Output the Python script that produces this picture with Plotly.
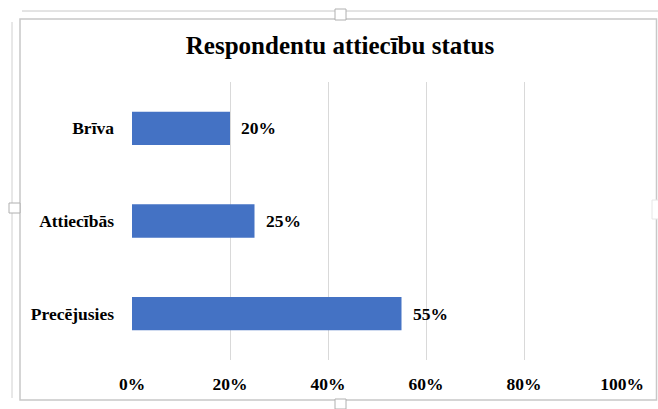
import plotly.graph_objects as go

categories = ["Precējusies", "Attiecībās", "Brīva"]
values = [0.55, 0.25, 0.20]
label_texts = ["55%", "25%", "20%"]
tick_vals = [0, 0.2, 0.4, 0.6, 0.8, 1.0]
tick_text = ["0%", "20%", "40%", "60%", "80%", "100%"]
title_text = "Respondentu attiecību status"

W, H = 658, 409
# plot area in screenshot pixels: x 132..622, y 82..360
L, T = 132, 82
R = W - 622
B = H - 360
pw, ph = W - L - R, H - T - B

def px_x(x):
    return (x - L) / pw

def px_y(y):
    return (T + ph - y) / ph

font_family = "Liberation Serif, Times New Roman, serif"
FS = 17.5

fig = go.Figure()
fig.add_trace(go.Bar(
    y=categories, x=values, orientation="h",
    marker=dict(color="#4472C4", line=dict(width=0)),
    hoverinfo="skip",
))

annotations = []
for c, v, t in zip(categories, values, label_texts):
    annotations.append(dict(
        x=v, y=c, xref="x", yref="y", text="<b>%s</b>" % t,
        showarrow=False, xanchor="left", yanchor="middle", xshift=9,
        font=dict(family=font_family, size=FS, color="#000000"),
    ))

shapes = [
    dict(type="rect", xref="paper", yref="paper",
         x0=px_x(20), x1=px_x(656.5), y0=px_y(400), y1=px_y(19),
         line=dict(color="#c8c8c8", width=1.5), fillcolor="rgba(0,0,0,0)", layer="below"),
    dict(type="line", xref="paper", yref="paper",
         x0=px_x(22), x1=px_x(700), y0=px_y(11), y1=px_y(11),
         line=dict(color="#c8c8c8", width=1)),
    dict(type="line", xref="paper", yref="paper",
         x0=px_x(12), x1=px_x(12), y0=px_y(22), y1=px_y(398),
         line=dict(color="#d0d0d0", width=1)),
    dict(type="rect", xref="paper", yref="paper",
         x0=px_x(335), x1=px_x(346), y0=px_y(20), y1=px_y(9),
         line=dict(color="#b0b0b0", width=1), fillcolor="#ffffff"),
    dict(type="rect", xref="paper", yref="paper",
         x0=px_x(9), x1=px_x(20), y0=px_y(213), y1=px_y(203),
         line=dict(color="#b0b0b0", width=1), fillcolor="#ffffff"),
    dict(type="rect", xref="paper", yref="paper",
         x0=px_x(335), x1=px_x(346), y0=px_y(409), y1=px_y(399),
         line=dict(color="#b0b0b0", width=1), fillcolor="#ffffff"),
    dict(type="rect", xref="paper", yref="paper",
         x0=px_x(652), x1=px_x(660), y0=px_y(219), y1=px_y(200),
         line=dict(color="#e6e6e6", width=1), fillcolor="#ffffff"),
]

fig.update_layout(
    width=W, height=H,
    margin=dict(l=L, r=R, t=T, b=B, pad=0),
    paper_bgcolor="#ffffff", plot_bgcolor="#ffffff",
    showlegend=False,
    bargap=0.64,
    title=dict(text="<b>%s</b>" % title_text, x=340 / W, xanchor="center",
               y=1 - 45 / H, yanchor="middle", yref="container",
               font=dict(family=font_family, size=25, color="#000000")),
    xaxis=dict(range=[0, 1], tickvals=tick_vals, ticktext=["<b>%s</b>" % t for t in tick_text],
               showgrid=True, gridcolor="#d9d9d9", gridwidth=1.3, zeroline=False,
               showline=False, ticks="", ticklabelstandoff=11,
               tickfont=dict(family=font_family, size=FS, color="#000000"), fixedrange=True),
    yaxis=dict(categoryorder="array", categoryarray=categories,
               tickvals=categories, ticktext=["<b>%s</b>" % c for c in categories],
               showgrid=False, zeroline=False, showline=False, ticks="",
               ticklabelstandoff=17,
               tickfont=dict(family=font_family, size=FS, color="#000000"), fixedrange=True),
    annotations=annotations,
    shapes=shapes,
)

fig.write_html(
    "out.html",
    config={"displayModeBar": False},
    post_script="document.body.style.margin='0';document.body.style.overflow='hidden';",
)
